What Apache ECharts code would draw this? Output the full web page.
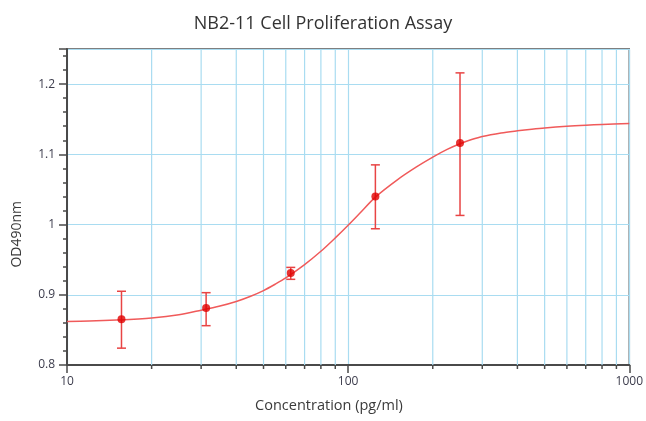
<!DOCTYPE html>
<html><head><meta charset="utf-8">
<script src="https://cdn.jsdelivr.net/npm/echarts@6/dist/echarts.min.js"></script>
<style>html,body{margin:0;padding:0;background:#fff}#c{width:646px;height:421px}</style>
</head><body><div id="c"></div>
<script>
// measured points (concentration pg/ml, OD490)
const conc = [15.625, 31.25, 62.5, 125, 250];
const od = [0.865, 0.881, 0.931, 1.040, 1.116];
const errLow = [0.824, 0.856, 0.922, 0.994, 1.013];
const errHigh = [0.905, 0.903, 0.939, 1.085, 1.216];
// fitted curve
const curveX = [10, 12, 15, 20, 25, 30, 35, 40, 45, 50, 55, 60, 70, 80, 90, 100, 110, 125, 150, 175, 200, 225, 250, 275, 300, 350, 400, 450, 500, 600, 700, 800, 1000];
const curveY = [0.862, 0.8625, 0.864, 0.867, 0.8715, 0.878, 0.884, 0.8905, 0.898, 0.906, 0.915, 0.924, 0.943, 0.962, 0.981, 0.999, 1.016, 1.039, 1.064, 1.082, 1.096, 1.107, 1.115, 1.121, 1.1255, 1.1305, 1.1335, 1.1358, 1.1376, 1.1400, 1.1415, 1.1425, 1.1438];
// vertical grid / minor tick positions on the log axis
const minorX = [20, 30, 40, 50, 60, 70, 80, 90, 200, 300, 400, 500, 600, 700, 800, 900];
const xTickLabels = ['10', '100', '1000'];
const yTickLabels = ['0.8', '0.9', '1', '1.1', '1.2'];

const gridBlue = '#a9dcf1';
const axisCol = '#4a4a4a';
const chart = echarts.init(document.getElementById('c'), null, {renderer: 'canvas'});
const font = '"Open Sans", "Noto Sans", sans-serif';

chart.setOption({
  animation: false,
  backgroundColor: '#fff',
  title: {
    text: 'NB2-11 Cell Proliferation Assay',
    left: 'center', top: 10,
    textStyle: {fontFamily: font, fontSize: 18, fontWeight: 'normal', color: '#333'}
  },
  grid: {left: 67, right: 15, top: 49, bottom: 56, show: true, borderColor: '#555', borderWidth: 1.5, backgroundColor: 'transparent'},
  xAxis: {
    type: 'log', logBase: 10, min: 10, max: 1000,
    axisLine: {show: true, lineStyle: {color: axisCol, width: 2}},
    axisTick: {show: true, length: 8, lineStyle: {color: axisCol, width: 1.5}},
    axisLabel: {fontFamily: font, fontSize: 12, color: '#3c3c4c', margin: 11,
      formatter: function (v) { const s = String(Math.round(v)); return xTickLabels.indexOf(s) >= 0 ? s : ''; }},
    splitLine: {show: true, lineStyle: {color: gridBlue, width: 1.2}}
  },
  yAxis: {
    type: 'value', min: 0.8, max: 1.25, interval: 0.1,
    axisLine: {show: true, lineStyle: {color: axisCol, width: 2}},
    axisTick: {show: true, length: 8, lineStyle: {color: axisCol, width: 1.5}},
    minorTick: {show: true, splitNumber: 5, length: 4, lineStyle: {color: axisCol, width: 1.5}},
    axisLabel: {
      fontFamily: font, fontSize: 12, color: '#3c3c4c', margin: 12,
      formatter: function (v) {
        const s = String(Math.round(v * 100) / 100);
        return yTickLabels.indexOf(s) >= 0 ? s : '';
      }
    },
    splitLine: {show: true, lineStyle: {color: gridBlue, width: 1.2}}
  },
  graphic: [
    {type: 'text', left: 10, top: 201, rotation: Math.PI / 2,
      style: {text: 'OD490nm', font: '14px ' + font, fill: '#3a3a3a'}},
    {type: 'text', x: 329, y: 406,
      style: {text: 'Concentration (pg/ml)', font: '14.5px ' + font, fill: '#3a3a3a', textAlign: 'center', textVerticalAlign: 'middle'}}
  ],
  series: [
    {
      // vertical grid lines and small outward ticks at log minor positions
      type: 'custom', z: 1, silent: true, clip: false,
      data: minorX.map(v => [v]),
      encode: {x: 0},
      renderItem: function (params, api) {
        const x = api.value(0);
        const b = api.coord([x, 0.8]);
        const t = api.coord([x, 1.25]);
        return {type: 'group', children: [
          {type: 'line', shape: {x1: b[0], y1: b[1], x2: t[0], y2: t[1]}, style: {stroke: gridBlue, lineWidth: 1.2}},
          {type: 'line', shape: {x1: b[0], y1: b[1], x2: b[0], y2: b[1] + 4}, style: {stroke: axisCol, lineWidth: 1.5}}
        ]};
      }
    },
    {
      type: 'line', smooth: 0.3, showSymbol: false, z: 3,
      lineStyle: {color: '#f05a5a', width: 1.5},
      data: curveX.map((x, i) => [x, curveY[i]])
    },
    {
      type: 'custom', z: 4,
      data: conc.map((c, i) => [c, errLow[i], errHigh[i]]),
      encode: {x: 0, y: [1, 2]},
      renderItem: function (params, api) {
        const x = api.value(0);
        const top = api.coord([x, api.value(2)]);
        const bot = api.coord([x, api.value(1)]);
        const w = 4.5;
        const st = {stroke: '#e84444', lineWidth: 1.5};
        return {type: 'group', children: [
          {type: 'line', shape: {x1: top[0], y1: top[1], x2: bot[0], y2: bot[1]}, style: st},
          {type: 'line', shape: {x1: top[0] - w, y1: top[1], x2: top[0] + w, y2: top[1]}, style: st},
          {type: 'line', shape: {x1: bot[0] - w, y1: bot[1], x2: bot[0] + w, y2: bot[1]}, style: st}
        ]};
      }
    },
    {
      type: 'scatter', z: 5, symbolSize: 8,
      itemStyle: {color: '#e00000'},
      data: conc.map((c, i) => [c, od[i]])
    }
  ]
});
</script>
</body></html>
